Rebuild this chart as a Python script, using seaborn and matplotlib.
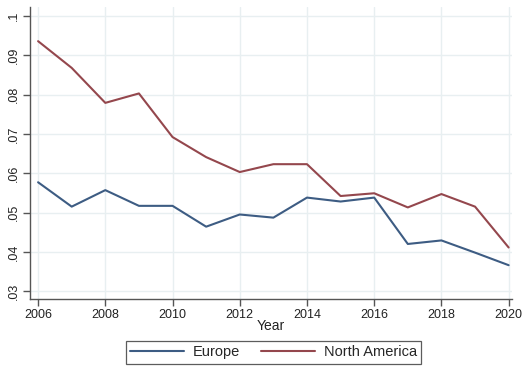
import numpy as np
import pandas as pd
import seaborn as sns
import matplotlib
matplotlib.use("Agg")
import matplotlib.pyplot as plt
from matplotlib.ticker import FuncFormatter

years = list(range(2006, 2021))
europe = [0.0577, 0.0515, 0.0557, 0.0517, 0.0517, 0.0464, 0.0495, 0.0487,
          0.0538, 0.0528, 0.0538, 0.0420, 0.0429, 0.0398, 0.0366]
north_america = [0.0936, 0.0868, 0.0779, 0.0803, 0.0692, 0.0641, 0.0603, 0.0623,
                 0.0623, 0.0542, 0.0549, 0.0513, 0.0547, 0.0515, 0.0411]
regions = ["Europe", "North America"]
x_ticks = list(range(2006, 2021, 2))
y_ticks = [0.03, 0.04, 0.05, 0.06, 0.07, 0.08, 0.09, 0.10]

df = pd.DataFrame({
    "Year": years * 2,
    "value": europe + north_america,
    "region": [regions[0]] * len(years) + [regions[1]] * len(years),
})

sns.set_theme(style="white")
plt.rcParams["font.family"] = ["Liberation Sans", "DejaVu Sans"]

fig = plt.figure(figsize=(5.23, 3.67), dpi=100)
ax = fig.add_axes([0.0574, 0.1853, 0.9216, 0.7957])

palette = {"Europe": "#3D5C83", "North America": "#94474D"}
sns.lineplot(data=df, x="Year", y="value", hue="region", palette=palette,
             linewidth=1.5, ax=ax, legend=False)

ax.set_xlim(2005.76, 2020.1)
ax.set_ylim(0.028, 0.1023)
ax.set_xticks(x_ticks)
ax.set_yticks(y_ticks)
ax.yaxis.set_major_formatter(FuncFormatter(lambda v, _: ("%.2f" % v).rstrip("0").lstrip("0")))
for lab in ax.get_yticklabels():
    lab.set_rotation(90)
    lab.set_va("center")

ax.grid(True, color="#E8EFF1", linewidth=1.0)
ax.set_axisbelow(True)
for side in ("top", "right"):
    ax.spines[side].set_visible(False)
for side in ("left", "bottom"):
    ax.spines[side].set_color("#555555")
    ax.spines[side].set_linewidth(1.0)
ax.tick_params(axis="both", which="major", direction="out", length=5, width=1,
               color="#555555", labelsize=9, labelcolor="#222222", pad=2,
               bottom=True, left=True)
ax.set_xlabel("Year", fontsize=10, color="#222222", labelpad=-1)
ax.set_ylabel("")

handles = [plt.Line2D([], [], color=palette[r], linewidth=1.5) for r in regions]
leg = fig.legend(handles, regions, loc="upper center", bbox_to_anchor=(0.523, 0.071),
                 ncol=2, frameon=True, fancybox=False, fontsize=10.5,
                 handlelength=3.7, handletextpad=0.6, columnspacing=1.45,
                 borderpad=0.3, borderaxespad=0)
leg.get_frame().set_edgecolor("#333333")
leg.get_frame().set_linewidth(0.9)

fig.savefig("out.png", dpi=100)
